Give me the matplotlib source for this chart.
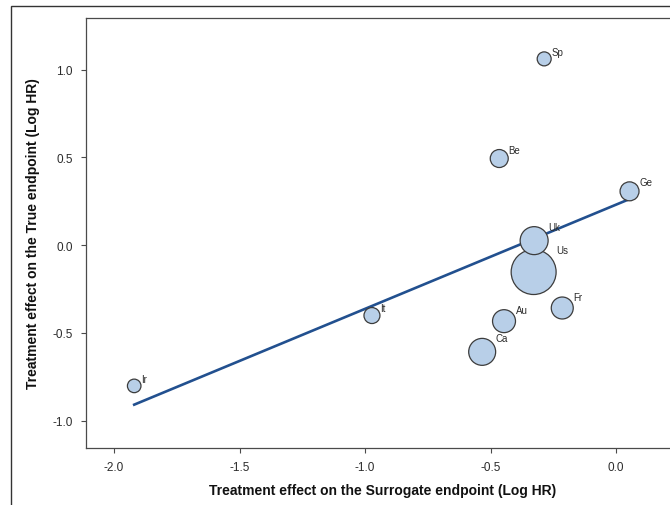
import matplotlib
matplotlib.use("Agg")
import matplotlib.pyplot as plt
import numpy as np
from matplotlib.patches import Rectangle

# Trial-level treatment effects (log hazard ratios) and trial weights
countries = ["Ir", "It", "Ca", "Au", "Fr", "Us", "Uk", "Ge", "Be", "Sp"]
surrogate_effect = [-1.92, -0.973, -0.534, -0.447, -0.215, -0.329, -0.327, 0.053, -0.466, -0.287]
true_effect = [-0.802, -0.401, -0.608, -0.433, -0.358, -0.153, 0.026, 0.307, 0.494, 1.062]
weight = [46, 64, 182, 132, 121, 506, 196, 90, 81, 49]

# Fitted trial-level regression line
slope = 0.594
intercept = 0.2315

x_ticks = [-2.0, -1.5, -1.0, -0.5, 0.0]
y_ticks = [-1.0, -0.5, 0.0, 0.5, 1.0]

FILL, EDGE, LINE = "#b8cfe8", "#3c3c3c", "#22508f"
INK, FRAME = "#2b2b2b", "#4a4a4a"

plt.rcParams["font.family"] = ["Liberation Sans", "DejaVu Sans"]

fig = plt.figure(figsize=(6.7, 5.06), dpi=100, facecolor="white")
ax = fig.add_axes([86 / 670, 57 / 506, 593 / 670, 430 / 506])

x = np.array(surrogate_effect)
y = np.array(true_effect)
w = np.array(weight, dtype=float)
sizes = w * 2.07

xs = np.array([x.min(), x.max()])
ax.plot(xs, slope * xs + intercept, color=LINE, linewidth=1.9, zorder=2)
ax.scatter(x, y, s=sizes, facecolor=FILL, edgecolor=EDGE, linewidth=0.9, zorder=3)

for name, xi, yi, si in zip(countries, x, y, sizes):
    r = np.sqrt(si) / 2
    ax.annotate(name, (xi, yi), xytext=(r, r), textcoords="offset points",
                ha="left", va="center", fontsize=7, color=INK, zorder=4)

ax.set_xlim(-2.112, 0.25)
ax.set_ylim(-1.156, 1.295)
ax.set_xticks(x_ticks)
ax.set_yticks(y_ticks)
ax.set_xticklabels([f"{t:.1f}" for t in x_ticks])
ax.set_yticklabels([f"{t:.1f}" for t in y_ticks])
ax.tick_params(direction="out", length=3.6, width=0.8, color=FRAME,
               labelcolor=INK, labelsize=8.5, pad=6)
for spine in ax.spines.values():
    spine.set_color(FRAME)
    spine.set_linewidth(0.9)

ax.set_xlabel("Treatment effect on the Surrogate endpoint (Log HR)",
              fontsize=10, fontweight="bold", color="#111111", labelpad=7)
ax.set_ylabel("Treatment effect on the True endpoint (Log HR)",
              fontsize=10, fontweight="bold", color="#111111", labelpad=9)

# outer graph border, running off the right and bottom edges
fig.add_artist(Rectangle((11 / 670, -0.1), 2.0, 1.1 - 7 / 506,
                         transform=fig.transFigure, fill=False,
                         edgecolor="#333333", linewidth=1.0))

fig.savefig("out.png", dpi=100, facecolor="white")
